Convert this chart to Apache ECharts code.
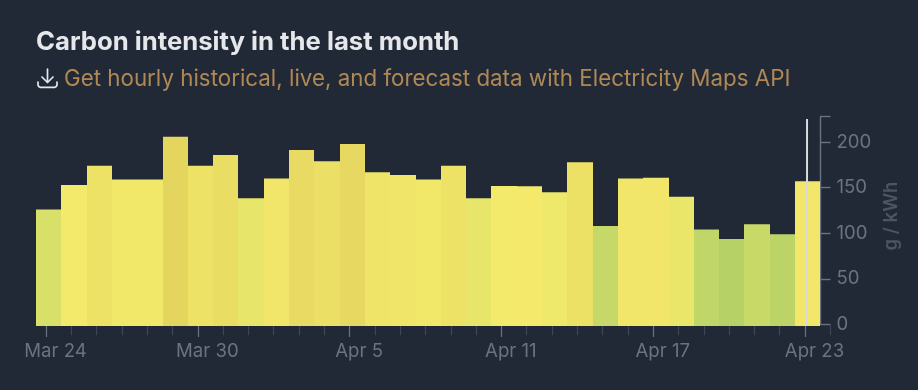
<!DOCTYPE html>
<html><head><meta charset="utf-8">
<style>html,body{margin:0;padding:0;background:#212936}#c{width:918px;height:390px}</style>
<script src="https://cdn.jsdelivr.net/npm/echarts@6/dist/echarts.min.js"></script>
</head><body><div id="c"></div>
<script>
const dates=["Mar 24","Mar 25","Mar 26","Mar 27","Mar 28","Mar 29","Mar 30","Mar 31","Apr 1","Apr 2","Apr 3","Apr 4","Apr 5","Apr 6","Apr 7","Apr 8","Apr 9","Apr 10","Apr 11","Apr 12","Apr 13","Apr 14","Apr 15","Apr 16","Apr 17","Apr 18","Apr 19","Apr 20","Apr 21","Apr 22","Apr 23"];
const intensity=[126,153,174,159,159,206,174,186,138.5,160,191.5,179,198,167,164,159,174,138.5,152,151.5,145,178,108,160,161,140,104,93.7,110,99,157];
const labelIdx=[0,6,12,18,24,30];
const yTicks=[0,50,100,150,200];
const titleText="Carbon intensity in the last month";
const subText="Get hourly historical, live, and forecast data with Electricity Maps API";
const unit="g / kWh";
const cursorIndex=30.08;

const allTicks=dates.map((d,i)=>i).concat([dates.length]);
const F="Inter";
const barOffset=0.395, yMin=-1.9, yMax=228;
const G={left:36,right:918-830.3};
const iconStyle={fill:null,stroke:'#e5e7eb',lineWidth:1.7,lineCap:'round',lineJoin:'round'};
const chart=echarts.init(document.getElementById('c'),null,{renderer:'canvas'});
chart.setOption({
 backgroundColor:'#212936',animation:false,
 title:[
  {text:titleText,left:36,top:26.5,padding:0,textStyle:{fontFamily:F,fontSize:25.7,fontWeight:700,color:'#e5e7eb',lineHeight:32}},
  {text:subText,left:64,top:64,padding:0,textStyle:{fontFamily:F,fontSize:22.35,fontWeight:400,color:'#b08856',lineHeight:30}}
 ],
 graphic:[
  {type:'group',x:38,y:69,silent:true,children:[
   {type:'polyline',shape:{points:[[9.5,0],[9.5,13]]},style:iconStyle},
   {type:'polyline',shape:{points:[[4,8],[9.5,13.5],[15,8]]},style:iconStyle},
   {type:'polyline',shape:{points:[[0,13],[0,16],[0.8,17.6],[2.4,18.4],[16.6,18.4],[18.2,17.6],[19,16],[19,13]]},style:iconStyle}
  ]}
 ],
 visualMap:{show:false,seriesIndex:0,dimension:1,min:94,max:206,inRange:{color:['#b6d267','#f4ea6b','#e4d55f']}},
 grid:[
  {left:G.left,right:G.right,top:116.7,bottom:390-326},
  {left:G.left,right:G.right,top:116.7,bottom:390-324.3}
 ],
 xAxis:[
  {type:'value',gridIndex:0,min:-barOffset,max:dates.length,splitLine:{show:false},axisLine:{show:false},
   axisTick:{show:true,length:11,customValues:allTicks,lineStyle:{color:'#3d4654',width:1.2}},
   axisLabel:{show:false}},
  {type:'value',gridIndex:0,min:-barOffset,max:dates.length,splitLine:{show:false},axisLine:{show:false},position:'bottom',
   axisTick:{show:true,length:11,customValues:labelIdx,lineStyle:{color:'#6b7280',width:1.2}},
   axisLabel:{show:true,customValues:labelIdx,margin:16,padding:[0,0,0,19],fontFamily:F,fontSize:18.6,color:'#6b7280',hideOverlap:false,showMinLabel:true,showMaxLabel:true,formatter:v=>dates[Math.round(v)]}},
  {type:'value',gridIndex:1,min:-barOffset,max:dates.length,show:false}
 ],
 yAxis:[
  {type:'value',gridIndex:0,min:yMin,max:yMax,show:false},
  {type:'value',gridIndex:1,position:'right',min:0,max:yMax,offset:-10.3,splitLine:{show:false},
   axisLine:{show:true,onZero:false,lineStyle:{color:'#6b7280',width:1.4}},
   axisTick:{show:true,inside:false,length:10.5,customValues:yTicks.concat([yMax]),lineStyle:{color:'#6b7280',width:1.4}},
   axisLabel:{show:true,customValues:yTicks,margin:16.5,fontFamily:F,fontSize:18.6,color:'#6b7280',showMinLabel:true,showMaxLabel:true},
   name:unit,nameLocation:'middle',nameRotate:90,nameGap:61,nameTextStyle:{fontFamily:F,fontSize:18.6,fontWeight:600,color:'#4b5563',padding:[0,0,0,9]}}
 ],
 series:[
  {type:'custom',xAxisIndex:0,yAxisIndex:0,coordinateSystem:'cartesian2d',clip:false,
   encode:{x:0,y:1},
   data:intensity.map((v,i)=>[i,v]),
   renderItem(p,api){
    const i=api.value(0),v=api.value(1);
    const a=api.coord([i-barOffset,v]),b=api.coord([i+1-barOffset,yMin]);
    return {type:'rect',shape:{x:Math.round(a[0]),y:a[1],width:Math.round(b[0])-Math.round(a[0]),height:b[1]-a[1]},style:{fill:api.visual('color')}};
   }},
  {type:'line',xAxisIndex:0,yAxisIndex:0,symbol:'none',silent:true,
   data:[[cursorIndex,yMin],[cursorIndex,225.5]],lineStyle:{color:'#d8dadd',width:2},z:5}
 ]
});
</script></body></html>
